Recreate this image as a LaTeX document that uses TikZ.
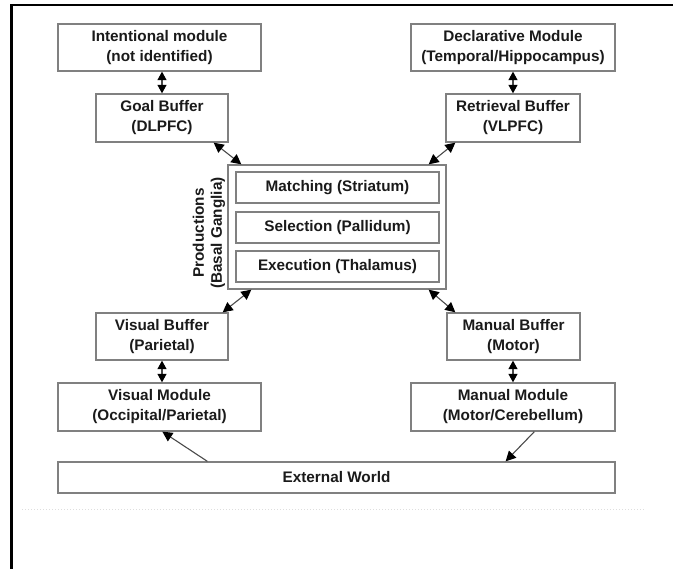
\documentclass[tikz,border=0pt]{standalone}
\usepackage{fontspec}
\setmainfont{Liberation Sans}
\usetikzlibrary{arrows.meta,calc}
\definecolor{boxline}{HTML}{808080}
\definecolor{txt}{HTML}{1A1A1A}
\definecolor{link}{HTML}{4A4A4A}
\begin{document}
\begin{tikzpicture}[x=1pt,y=-1pt,
  box/.style={draw=boxline,line width=1.3pt,rectangle,inner sep=0pt,
    align=center,text=txt,font=\fontsize{15.3}{20}\selectfont\bfseries},
  link/.style={draw=link,line width=1.1pt,{Triangle[length=10pt,width=10pt,color=black]}-{Triangle[length=10pt,width=10pt,color=black]}},
  oneway/.style={draw=link,line width=1.1pt,-{Triangle[length=10pt,width=10pt,color=black]}},
  vlink/.style={draw=link,line width=1.1pt,{Triangle[length=8.5pt,width=9pt,color=black]}-{Triangle[length=8.5pt,width=9pt,color=black]}}]
\useasboundingbox (0,0) rectangle (673,569);
% outer frame (top and left edges)
\draw[line width=2.8pt,black] (11.5,569) -- (11.5,5) -- (673,5);
% faint dotted rule under the figure
\draw[black!13,line width=1pt,dotted] (22,510) -- (645,510);

% modules and buffers
\node[box,minimum width=203pt,minimum height=47pt] (int) at (159.5,47.5)
  {Intentional module\\(not identified)};
\node[box,minimum width=132pt,minimum height=48pt] (goal) at (162,118)
  {Goal Buffer\\(DLPFC)};
\node[box,minimum width=204pt,minimum height=47pt] (decl) at (513,47.5)
  {Declarative Module\\(Temporal/Hippocampus)};
\node[box,minimum width=134pt,minimum height=48pt] (retr) at (513,118)
  {Retrieval Buffer\\(VLPFC)};

% productions
\node[box,minimum width=218pt,minimum height=124pt] (prod) at (337,227) {};
\node[box,minimum width=203pt,minimum height=31pt] (match) at (337.5,187.5)
  {Matching (Striatum)};
\node[box,minimum width=203pt,minimum height=31pt] (sel) at (337.5,227.5)
  {Selection (Pallidum)};
\node[box,minimum width=203pt,minimum height=31pt] (exec) at (337.5,266.5)
  {Execution (Thalamus)};
\node[align=center,text=txt,rotate=90,inner sep=0pt,
  font=\fontsize{15.3}{18}\selectfont\bfseries] (prodlabel) at (209,233)
  {Productions\\(Basal Ganglia)};

\node[box,minimum width=132pt,minimum height=47pt] (vbuf) at (162,336.5)
  {Visual Buffer\\(Parietal)};
\node[box,minimum width=203pt,minimum height=48pt] (vmod) at (159.5,407)
  {Visual Module\\(Occipital/Parietal)};
\node[box,minimum width=133pt,minimum height=47pt] (mbuf) at (513.5,336.5)
  {Manual Buffer\\(Motor)};
\node[box,minimum width=204pt,minimum height=48pt] (mmod) at (513,407)
  {Manual Module\\(Motor/Cerebellum)};
\node[box,minimum width=557pt,minimum height=31pt] (world) at (336.5,477.5)
  {External World};

% module <-> buffer links
\draw[vlink] (goal.north |- int.south) -- (goal.north);
\draw[vlink] (decl.south) -- (decl.south |- retr.north);
\draw[vlink] (vbuf.south) -- (vbuf.south |- vmod.north);
\draw[vlink] (mmod.north |- mbuf.south) -- (mmod.north);

% buffer <-> productions links
\draw[link] ($(goal.south east)+(-15,0)$) -- ($(prod.north west)+(14,0)$);
\draw[link] ($(retr.south west)+(10,0)$) -- ($(prod.north east)+(-18,0)$);
\draw[link] ($(prod.south west)+(24,0)$) -- ($(vbuf.north east)+(-6,0)$);
\draw[link] ($(prod.south east)+(-18,0)$) -- ($(mbuf.north west)+(9,0)$);

% world links
\draw[oneway] ($(world.north west)+(150,0)$) -- ($(vmod.south west)+(105,0)$);
\draw[oneway] ($(mmod.south west)+(124,0)$) -- ($(world.north east)+(-110,0)$);
\end{tikzpicture}
\end{document}
